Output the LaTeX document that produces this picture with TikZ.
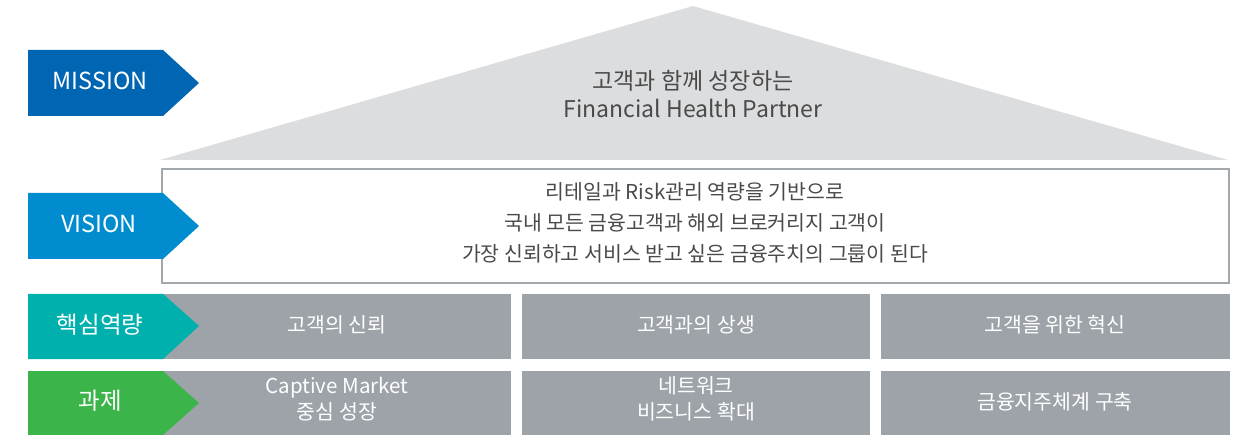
\documentclass[tikz,border=0pt]{standalone}
\usepackage{fontspec}
\setmainfont{Noto Sans CJK KR}
\usetikzlibrary{positioning}

\definecolor{missionblue}{HTML}{0066B3}
\definecolor{visionblue}{HTML}{008CCF}
\definecolor{coreteal}{HTML}{00B0AD}
\definecolor{taskgreen}{HTML}{3BB54A}
\definecolor{cellgray}{HTML}{9DA3A9}
\definecolor{roofgray}{HTML}{DCDDDF}
\definecolor{linegray}{HTML}{A3A8AD}
\definecolor{textgray}{HTML}{4A4A4A}

\tikzset{
    tag/.style={text=white, font=\fontsize{23.5}{26}\selectfont},
    cell/.style={fill=cellgray, text=white, align=center, font=\fontsize{20.5}{26}\selectfont},
}

\begin{document}
\begin{tikzpicture}[x=1pt,y=-1pt]

    \useasboundingbox (0,0) rectangle (1249,435);

    % roof
    \fill[roofgray] (160,160) -- (693,6) -- (1228,160) -- cycle;
    \node[align=center, text=textgray, font=\fontsize{23}{28}\selectfont] at (693,94) (roof) {고객과 함께 성장하는\\Financial Health Partner};

    % vision box
    \draw[linegray, line width=2pt] (162,169) rectangle (1229,283);
    \node[align=center, text=textgray, font=\fontsize{20.5}{31}\selectfont] at (695,223) (vis) {리테일과 Risk관리 역량을 기반으로\\국내 모든 금융고객과 해외 브로커리지 고객이\\가장 신뢰하고 서비스 받고 싶은 금융주치의 그룹이 된다};

    % cells
    \fill[cellgray] (163,294) rectangle (511,359);
    \fill[cellgray] (522,294) rectangle (870,359);
    \fill[cellgray] (881,294) rectangle (1230,359);
    \fill[cellgray] (163,371) rectangle (511,435);
    \fill[cellgray] (522,371) rectangle (870,435);
    \fill[cellgray] (881,371) rectangle (1230,435);
    \node[cell] at (337,325) (trust) {고객의 신뢰};
    \node[cell] at (696,325) (cogrow) {고객과의 상생};
    \node[cell] at (1055,325) (innov) {고객을 위한 혁신};
    \node[cell] at (337,399) (captive) {Captive Market\\중심 성장};
    \node[cell] at (696,399) (network) {네트워크\\비즈니스 확대};
    \node[cell] at (1055,402) (holding) {금융지주체계 구축};

    % tags
    \fill[missionblue] (28,50) -- (163,50) -- (199,83) -- (163,116) -- (28,116) -- cycle;
    \fill[visionblue] (28,193) -- (163,193) -- (199,226) -- (163,259) -- (28,259) -- cycle;
    \fill[coreteal] (28,294) -- (163,294) -- (199,326) -- (163,359) -- (28,359) -- cycle;
    \fill[taskgreen] (28,371) -- (163,371) -- (199,403) -- (163,435) -- (28,435) -- cycle;
    \node[tag] at (100,81) (mission) {MISSION};
    \node[tag] at (99,224) (vision) {VISION};
    \node[tag] at (100,325) (core) {핵심역량};
    \node[tag] at (100,401) (task) {과제};

\end{tikzpicture}
\end{document}
